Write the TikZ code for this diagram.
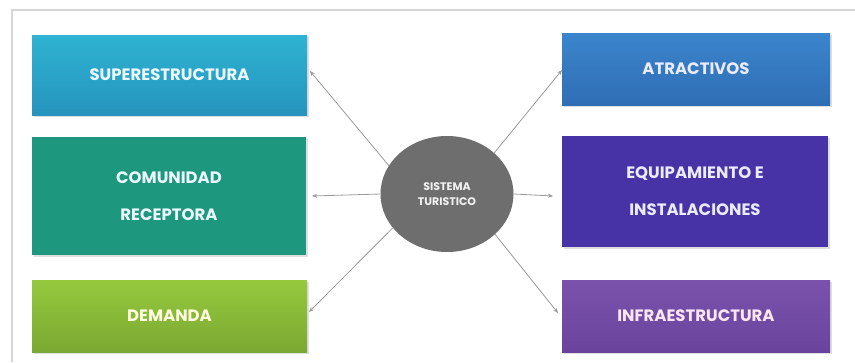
\documentclass[tikz,border=0pt]{standalone}
\usepackage{fontspec}
\setmainfont{Poppins}
\usetikzlibrary{shapes.geometric,shadows,arrows.meta}
\definecolor{cSupT}{HTML}{2FB3D2}
\definecolor{cSupB}{HTML}{2594BE}
\definecolor{cCom}{HTML}{1E977F}
\definecolor{cDemT}{HTML}{96C93E}
\definecolor{cDemB}{HTML}{7BA832}
\definecolor{cAtrT}{HTML}{3B85CC}
\definecolor{cAtrB}{HTML}{2F6EB5}
\definecolor{cEqu}{HTML}{4833A6}
\definecolor{cInfT}{HTML}{7A52AC}
\definecolor{cInfB}{HTML}{6A449C}
\definecolor{cEll}{HTML}{6E6E6E}
\definecolor{cLine}{HTML}{9A9A9A}
\definecolor{cFrame}{HTML}{D6D6D6}
\tikzset{
  boxbase/.style={rectangle, inner sep=0pt, align=center,
    font=\fontsize{16.5}{37}\selectfont\bfseries,
    drop shadow={opacity=0.25, shadow xshift=1.5pt, shadow yshift=-1.5pt}},
  conn/.style={draw=cLine, line width=0.8pt, -{Stealth[length=5pt,width=4pt]}},
}
\begin{document}
\begin{tikzpicture}[x=1pt,y=-1pt]
\useasboundingbox (0,0) rectangle (855,362);
\fill[white] (0,0) rectangle (855,362);
\draw[cFrame, line width=1.5pt] (855,10) -- (12,10) -- (12,362);

\node[boxbase, minimum width=275pt, minimum height=80pt, top color=cSupT, bottom color=cSupB, text=white!92!cyan] (sup) at (169.5,75) {SUPERESTRUCTURA};
\node[boxbase, minimum width=274pt, minimum height=118pt, fill=cCom, text=white!92!cyan] (com) at (169,196) {COMUNIDAD\\RECEPTORA};
\node[boxbase, minimum width=275pt, minimum height=72pt, top color=cDemT, bottom color=cDemB, text=white!88!yellow] (dem) at (169.5,316) {DEMANDA};

\node[boxbase, minimum width=268pt, minimum height=72pt, top color=cAtrT, bottom color=cAtrB, text=white!92!blue] (atr) at (696,69) {ATRACTIVOS};
\node[boxbase, minimum width=266pt, minimum height=111pt, fill=cEqu, text=white!92!blue] (equ) at (695,191.5) {EQUIPAMIENTO E\\INSTALACIONES};
\node[boxbase, minimum width=268pt, minimum height=72pt, top color=cInfT, bottom color=cInfB, text=white!90!magenta] (inf) at (696,316) {INFRAESTRUCTURA};

\node[ellipse, fill=cEll, minimum width=133pt, minimum height=116pt, inner sep=0pt, align=center, text=white!90!gray,
  font=\fontsize{11}{15}\selectfont\bfseries] (ell) at (447,194) {SISTEMA\\TURISTICO};

\coordinate (tSup) at (310,71);
\coordinate (tCom) at (312,196);
\coordinate (tDem) at (309,312);
\coordinate (tAtr) at (562,70);
\coordinate (tEqu) at (553,196);
\coordinate (tInf) at (558,313);

\draw[conn] (ell.154) -- (tSup);
\draw[conn] (ell.west) -- (tCom);
\draw[conn] (ell.212) -- (tDem);
\draw[conn] (ell.41) -- (tAtr);
\draw[conn] (ell.east) -- (tEqu);
\draw[conn] (ell.-40) -- (tInf);
\end{tikzpicture}
\end{document}
